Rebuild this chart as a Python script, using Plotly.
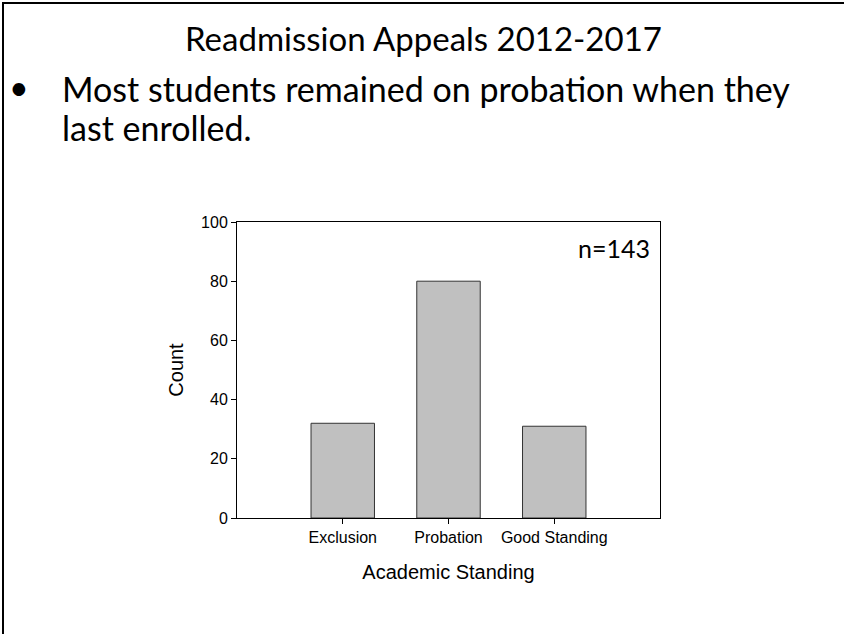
import plotly.graph_objects as go

# Data
categories = ["Exclusion", "Probation", "Good Standing"]
counts = [32, 80, 31]
y_ticks = [0, 20, 40, 60, 80, 100]

title_text = "Readmission Appeals 2012-2017"
bullet_lines = ["Most students remained on probation when they", "last enrolled."]
n_label = "n=" + str(sum(counts))

W, H = 844, 634
slide_font = "Lato, Carlito, Calibri, sans-serif"
chart_font = "Liberation Sans, Arial, sans-serif"


def px(x):
    return x / W


def py(y):
    return 1 - y / H


fig = go.Figure()
fig.add_trace(go.Bar(
    x=categories,
    y=counts,
    width=0.6,
    marker=dict(color="#c0c0c0", line=dict(color="#333333", width=1)),
    showlegend=False,
    hoverinfo="x+y",
))

axis_common = dict(
    showline=True, linecolor="black", linewidth=1, mirror=True,
    showgrid=False, zeroline=False, automargin=False,
    ticks="outside", ticklen=5, tickwidth=1, tickcolor="black",
    tickfont=dict(family=chart_font, size=16, color="black"),
)

fig.update_layout(
    width=W, height=H,
    margin=dict(l=0, r=0, t=0, b=0, pad=0, autoexpand=False),
    paper_bgcolor="white", plot_bgcolor="white",
    xaxis=dict(
        domain=[px(237), px(660)],
        range=[-1, 3],
        type="category",
        title=dict(text="Academic Standing", standoff=19,
                   font=dict(family=chart_font, size=20, color="black")),
        **axis_common,
    ),
    yaxis=dict(
        domain=[py(518), py(222)],
        range=[0, 100],
        tickvals=y_ticks,
        title=dict(text="Count", standoff=12,
                   font=dict(family=chart_font, size=20, color="black")),
        **axis_common,
    ),
    shapes=[
        dict(type="line", xref="paper", yref="paper",
             x0=px(3), x1=px(3), y0=0, y1=py(2), line=dict(color="black", width=2)),
        dict(type="line", xref="paper", yref="paper",
             x0=px(2), x1=1, y0=py(3), y1=py(3), line=dict(color="black", width=2)),
    ],
    annotations=[
        dict(text=title_text, x=px(423), y=py(38), xref="paper", yref="paper",
             xanchor="center", yanchor="middle", showarrow=False,
             font=dict(family=slide_font, size=33, color="black")),
        dict(text="•", x=px(7), y=py(86), xref="paper", yref="paper",
             xanchor="left", yanchor="middle", showarrow=False,
             font=dict(family=slide_font, size=34, color="black")),
        dict(text=bullet_lines[0], x=px(60), y=py(88), xref="paper", yref="paper",
             xanchor="left", yanchor="middle", showarrow=False,
             font=dict(family=slide_font, size=34, color="black")),
        dict(text=bullet_lines[1], x=px(60), y=py(128), xref="paper", yref="paper",
             xanchor="left", yanchor="middle", showarrow=False,
             font=dict(family=slide_font, size=34, color="black")),
        dict(text=n_label, x=px(652), y=py(248), xref="paper", yref="paper",
             xanchor="right", yanchor="middle", showarrow=False,
             font=dict(family=slide_font, size=25, color="black")),
    ],
)

fig.write_html("out.html")
